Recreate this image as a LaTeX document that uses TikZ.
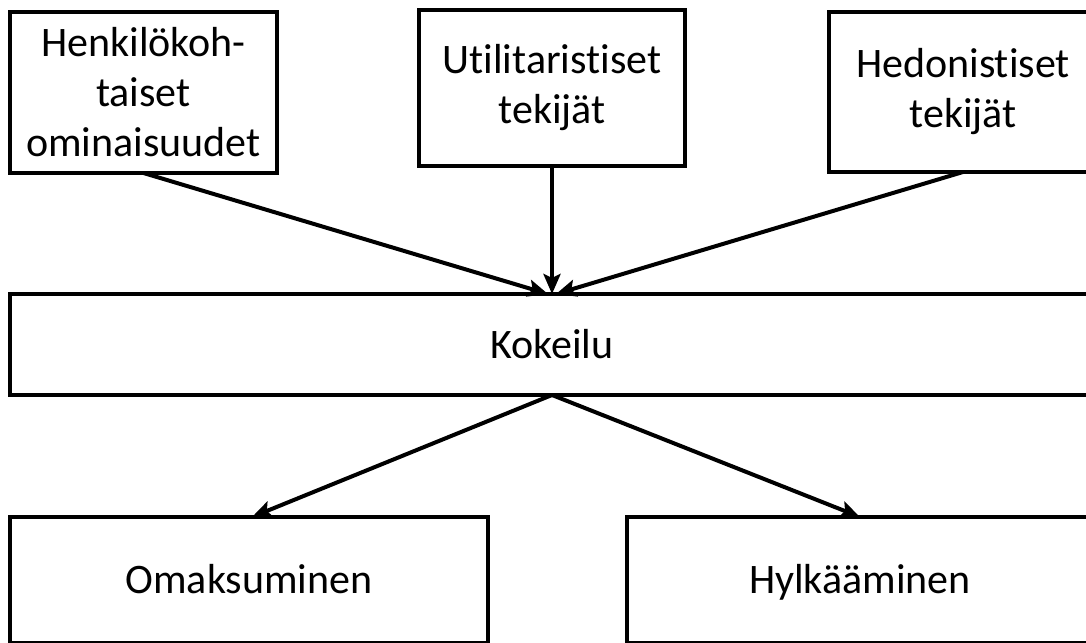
\documentclass[tikz,border=0pt]{standalone}
\usepackage{fontspec}
\setmainfont{Carlito}[Ligatures=NoCommon]
\usetikzlibrary{arrows.meta}
\tikzset{
    box/.style={draw, line width=4pt, fill=white, align=center, inner sep=0pt, outer sep=0pt,
        font=\fontsize{42}{50}\selectfont},
    oneline/.style={text height=28pt, text depth=1pt},
    arr/.style={line width=4pt, -{Stealth[length=20pt,width=17pt,inset=4pt]}}
}

\begin{document}
\begin{tikzpicture}[x=1pt,y=-1pt]
        \useasboundingbox (0,0) rectangle (1086,642);
        \clip (0,0) rectangle (1086,642);
        \fill[white] (0,0) rectangle (1086,642);

        % top row
        \node[box, minimum width=267pt, minimum height=161pt] (henk) at (143.5,92.5) {Henkilökoh-\\taiset\\ominaisuudet};
        \node[box, minimum width=266pt, minimum height=156pt] (util) at (552,88) {Utilitaristiset\\tekijät};
        \node[box, minimum width=268pt, minimum height=160pt] (hedo) at (963,92) {Hedonistiset\\tekijät};

        % middle
        \node[box, oneline, minimum width=1084pt, minimum height=101pt] (koke) at (552,344.5) {Kokeilu};

        % bottom row
        \node[box, oneline, minimum width=478pt, minimum height=126pt] (omak) at (249,580) {Omaksuminen};
        \node[box, oneline, minimum width=466pt, minimum height=126pt] (hylk) at (860,580) {Hylkääminen};

        \draw[arr] (henk.south) to ([xshift=-4pt]koke.north);
        \draw[arr] (util.south) to (koke.north);
        \draw[arr] (hedo.south) to ([xshift=4pt]koke.north);

        \draw[arr] (koke.south) to ([xshift=3pt]omak.north);
        \draw[arr] (koke.south) to (hylk.north);
\end{tikzpicture}
\end{document}
